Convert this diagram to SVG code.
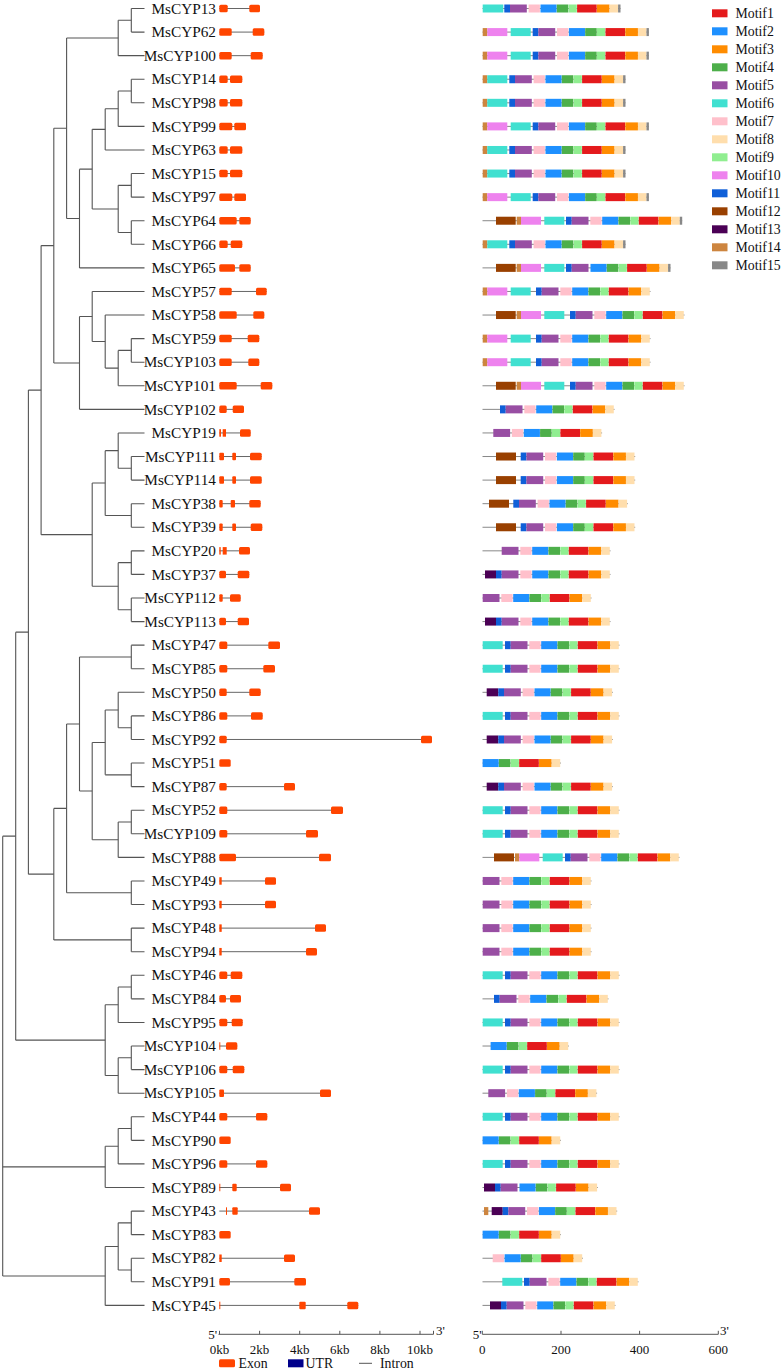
<svg xmlns="http://www.w3.org/2000/svg" width="784" height="1371" viewBox="0 0 784 1371">
<style>
.t{fill:none;stroke:#555;stroke-width:1.1}
.lb{font-family:"Liberation Serif","Times New Roman",serif;font-size:15.3px;fill:#111;text-anchor:end}
.e{fill:#FF4500}
.in{fill:none;stroke:#666;stroke-width:1}
.bb{stroke:#888;stroke-width:1}
.ax{fill:none;stroke:#555;stroke-width:1}
.tx{font-family:"Liberation Serif","Times New Roman",serif;font-size:13px;fill:#111}
.lg{font-family:"Liberation Serif","Times New Roman",serif;font-size:13.8px;fill:#111}
.m1{fill:#E41A1C}.m2{fill:#1E90FF}.m3{fill:#FF8C00}.m4{fill:#4DAF4A}.m5{fill:#984EA3}
.m6{fill:#40E0D0}.m7{fill:#FFC0CB}.m8{fill:#FFDEAD}.m9{fill:#90EE90}.m10{fill:#EE82EE}
.m11{fill:#0F5FD8}.m12{fill:#994000}.m13{fill:#4B0055}.m14{fill:#CD853F}.m15{fill:#888888}
</style>
<defs>
<g id="t2"><rect class="m2" x="36.2" y="-4" width="16.1" height="8"/><rect class="m4" x="52.5" y="-4" width="11.5" height="8"/><rect class="m9" x="64.3" y="-4" width="8.2" height="8"/><rect class="m1" x="72.8" y="-4" width="19.6" height="8"/><rect class="m3" x="92.6" y="-4" width="12.6" height="8"/><rect class="m8" x="105.3" y="-4" width="8.5" height="8"/></g>
<g id="t7"><rect class="m7" x="24.3" y="-4" width="11.3" height="8"/><use href="#t2"/></g>
<g id="t5"><rect class="m5" x="5.7" y="-4" width="16.8" height="8"/><use href="#t7"/></g>
<g id="c"><rect class="m11" x="0" y="-4" width="5.7" height="8"/><use href="#t5"/></g>
<rect id="e15" class="m15" x="113.8" y="-4" width="2.4" height="8"/>
<g id="pB"><rect class="m14" x="482.7" y="-4" width="4.6" height="8"/><rect class="m10" x="487.3" y="-4" width="20" height="8"/><rect class="m6" x="510.7" y="-4" width="20" height="8"/></g>
<g id="pC"><rect class="m14" x="482.7" y="-4" width="4.6" height="8"/><rect class="m6" x="487.3" y="-4" width="20" height="8"/></g>
<g id="pD"><rect class="m12" x="496" y="-4" width="19.7" height="8"/><rect class="m14" x="516.7" y="-4" width="4.3" height="8"/><rect class="m10" x="521" y="-4" width="20" height="8"/><rect class="m6" x="544.3" y="-4" width="20" height="8"/></g>
</defs>

<g id="connectors">
<path class="t" d="M131.3 8.5V32.08M118.2 20.29V55.66M131.3 79.24V102.82M118.2 91.03V126.4M105.2 108.72V149.98M131.3 173.56V197.14M131.3 220.72V244.3M118.2 185.35V232.51M92.2 129.35V208.93M79.5 169.14V267.88M66.6 37.98V218.51M131.3 338.62V362.2M118.2 350.41V385.78M105.2 315.04V368.1M92.2 291.46V341.57M79.5 316.52V409.36M53.8 128.25V362.94M131.3 456.52V480.1M118.2 432.94V468.31M131.3 503.68V527.26M105.2 450.63V515.47M131.3 550.84V574.42M131.3 598V621.58M118.2 562.63V609.79M92.2 483.05V586.21M41.1 245.6V534.63M131.3 645.16V668.74M131.3 715.9V739.48M118.2 692.32V727.69M131.3 763.06V786.64M105.2 710V774.85M131.3 810.22V833.8M118.2 822.01V857.38M92.2 742.43V839.7M79.5 656.95V791.07M131.3 880.96V904.54M66.6 724.01V892.75M131.3 928.12V951.7M53.8 808.38V939.91M28.4 390.12V874.15M131.3 975.28V998.86M118.2 987.07V1022.44M131.3 1046.02V1069.6M118.2 1057.81V1093.18M105.2 1004.76V1075.5M15.7 632.14V1040.13M131.3 1116.76V1140.34M118.2 1128.55V1163.92M105.2 1146.24V1187.5M131.3 1211.08V1234.66M131.3 1258.24V1281.82M118.2 1222.87V1270.03M105.2 1246.45V1305.4M2.7 836.14V1275.93"/>
<path class="t" d="M118.2 20.29H131.3M66.6 37.98H118.2M118.2 91.03H131.3M105.2 108.72H118.2M92.2 129.35H105.2M118.2 185.35H131.3M118.2 232.51H131.3M92.2 208.93H118.2M79.5 169.14H92.2M66.6 218.51H79.5M53.8 128.25H66.6M118.2 350.41H131.3M105.2 368.1H118.2M92.2 341.57H105.2M79.5 316.52H92.2M53.8 362.94H79.5M41.1 245.6H53.8M118.2 468.31H131.3M105.2 450.63H118.2M105.2 515.47H131.3M92.2 483.05H105.2M118.2 562.63H131.3M118.2 609.79H131.3M92.2 586.21H118.2M41.1 534.63H92.2M28.4 390.12H41.1M79.5 656.95H131.3M118.2 727.69H131.3M105.2 710H118.2M105.2 774.85H131.3M92.2 742.43H105.2M118.2 822.01H131.3M92.2 839.7H118.2M79.5 791.07H92.2M66.6 724.01H79.5M66.6 892.75H131.3M53.8 808.38H66.6M53.8 939.91H131.3M28.4 874.15H53.8M15.7 632.14H28.4M118.2 987.07H131.3M105.2 1004.76H118.2M118.2 1057.81H131.3M105.2 1075.5H118.2M15.7 1040.13H105.2M2.7 836.14H15.7M118.2 1128.55H131.3M105.2 1146.24H118.2M2.7 1166.87H105.2M118.2 1222.87H131.3M118.2 1270.03H131.3M105.2 1246.45H118.2M2.7 1275.93H105.2"/>
<path class="t" d="M131.3 8.5H144.5M131.3 32.08H144.5M118.2 55.66H144.5M131.3 79.24H144.5M131.3 102.82H144.5M118.2 126.4H144.5M105.2 149.98H144.5M131.3 173.56H144.5M131.3 197.14H144.5M131.3 220.72H144.5M131.3 244.3H144.5M79.5 267.88H144.5M92.2 291.46H144.5M105.2 315.04H144.5M131.3 338.62H144.5M131.3 362.2H144.5M118.2 385.78H144.5M79.5 409.36H144.5M118.2 432.94H144.5M131.3 456.52H144.5M131.3 480.1H144.5M131.3 503.68H144.5M131.3 527.26H144.5M131.3 550.84H144.5M131.3 574.42H144.5M131.3 598H144.5M131.3 621.58H144.5M131.3 645.16H144.5M131.3 668.74H144.5M118.2 692.32H144.5M131.3 715.9H144.5M131.3 739.48H144.5M131.3 763.06H144.5M131.3 786.64H144.5M131.3 810.22H144.5M131.3 833.8H144.5M118.2 857.38H144.5M131.3 880.96H144.5M131.3 904.54H144.5M131.3 928.12H144.5M131.3 951.7H144.5M131.3 975.28H144.5M131.3 998.86H144.5M118.2 1022.44H144.5M131.3 1046.02H144.5M131.3 1069.6H144.5M118.2 1093.18H144.5M131.3 1116.76H144.5M131.3 1140.34H144.5M118.2 1163.92H144.5M105.2 1187.5H144.5M131.3 1211.08H144.5M131.3 1234.66H144.5M131.3 1258.24H144.5M131.3 1281.82H144.5M105.2 1305.4H144.5"/>
</g>

<g id="MsCYP13" transform="translate(0,8.5)"><text class="lb" x="216" y="5.2">MsCYP13</text><path class="in" d="M219.3 0H260"/><rect class="e" x="219.3" y="-3.75" width="8.4" height="7.5" rx="1.5"/><rect class="e" x="249.3" y="-3.75" width="10.7" height="7.5" rx="1.5"/><line class="bb" x1="482.5" y1="0" x2="620.5" y2="0"/><rect class="m6" x="482.7" y="-4" width="20.6" height="8"/><use href="#c" x="504.3"/><use href="#e15" x="504.3"/></g>
<g id="MsCYP62" transform="translate(0,32.08)"><text class="lb" x="216" y="5.2">MsCYP62</text><path class="in" d="M219.3 0H264.3"/><rect class="e" x="219.3" y="-3.75" width="12.4" height="7.5" rx="1.5"/><rect class="e" x="252.7" y="-3.75" width="11.6" height="7.5" rx="1.5"/><line class="bb" x1="482.5" y1="0" x2="648.9" y2="0"/><use href="#pB"/><use href="#c" x="532.7"/><use href="#e15" x="532.7"/></g>
<g id="MsCYP100" transform="translate(0,55.66)"><text class="lb" x="216" y="5.2">MsCYP100</text><path class="in" d="M219.3 0H262.7"/><rect class="e" x="219.3" y="-3.75" width="12.4" height="7.5" rx="1.5"/><rect class="e" x="250.7" y="-3.75" width="12" height="7.5" rx="1.5"/><line class="bb" x1="482.5" y1="0" x2="648.9" y2="0"/><use href="#pB"/><use href="#c" x="532.7"/><use href="#e15" x="532.7"/></g>
<g id="MsCYP14" transform="translate(0,79.24)"><text class="lb" x="216" y="5.2">MsCYP14</text><path class="in" d="M219.3 0H242.3"/><rect class="e" x="219.3" y="-3.75" width="8.4" height="7.5" rx="1.5"/><rect class="e" x="230" y="-3.75" width="12.3" height="7.5" rx="1.5"/><line class="bb" x1="482.5" y1="0" x2="625.5" y2="0"/><use href="#pC"/><use href="#c" x="509.3"/><use href="#e15" x="509.3"/></g>
<g id="MsCYP98" transform="translate(0,102.82)"><text class="lb" x="216" y="5.2">MsCYP98</text><path class="in" d="M219.3 0H242.3"/><rect class="e" x="219.3" y="-3.75" width="8.4" height="7.5" rx="1.5"/><rect class="e" x="230" y="-3.75" width="12.3" height="7.5" rx="1.5"/><line class="bb" x1="482.5" y1="0" x2="625.5" y2="0"/><use href="#pC"/><use href="#c" x="509.3"/><use href="#e15" x="509.3"/></g>
<g id="MsCYP99" transform="translate(0,126.4)"><text class="lb" x="216" y="5.2">MsCYP99</text><path class="in" d="M219.3 0H246"/><rect class="e" x="219.3" y="-3.75" width="13" height="7.5" rx="1.5"/><rect class="e" x="234.3" y="-3.75" width="11.7" height="7.5" rx="1.5"/><line class="bb" x1="482.5" y1="0" x2="648.9" y2="0"/><use href="#pB"/><use href="#c" x="532.7"/><use href="#e15" x="532.7"/></g>
<g id="MsCYP63" transform="translate(0,149.98)"><text class="lb" x="216" y="5.2">MsCYP63</text><path class="in" d="M219.3 0H242.3"/><rect class="e" x="219.3" y="-3.75" width="8.4" height="7.5" rx="1.5"/><rect class="e" x="230" y="-3.75" width="12.3" height="7.5" rx="1.5"/><line class="bb" x1="482.5" y1="0" x2="625.5" y2="0"/><use href="#pC"/><use href="#c" x="509.3"/><use href="#e15" x="509.3"/></g>
<g id="MsCYP15" transform="translate(0,173.56)"><text class="lb" x="216" y="5.2">MsCYP15</text><path class="in" d="M219.3 0H242.3"/><rect class="e" x="219.3" y="-3.75" width="8.4" height="7.5" rx="1.5"/><rect class="e" x="230" y="-3.75" width="12.3" height="7.5" rx="1.5"/><line class="bb" x1="482.5" y1="0" x2="625.5" y2="0"/><use href="#pC"/><use href="#c" x="509.3"/><use href="#e15" x="509.3"/></g>
<g id="MsCYP97" transform="translate(0,197.14)"><text class="lb" x="216" y="5.2">MsCYP97</text><path class="in" d="M219.3 0H246"/><rect class="e" x="219.3" y="-3.75" width="13" height="7.5" rx="1.5"/><rect class="e" x="234.3" y="-3.75" width="11.7" height="7.5" rx="1.5"/><line class="bb" x1="482.5" y1="0" x2="648.9" y2="0"/><use href="#pB"/><use href="#c" x="532.7"/><use href="#e15" x="532.7"/></g>
<g id="MsCYP64" transform="translate(0,220.72)"><text class="lb" x="216" y="5.2">MsCYP64</text><path class="in" d="M219.3 0H250.7"/><rect class="e" x="219.3" y="-3.75" width="17.4" height="7.5" rx="1.5"/><rect class="e" x="239.3" y="-3.75" width="11.4" height="7.5" rx="1.5"/><line class="bb" x1="482.5" y1="0" x2="682.2" y2="0"/><use href="#pD"/><use href="#c" x="566"/><use href="#e15" x="566"/></g>
<g id="MsCYP66" transform="translate(0,244.3)"><text class="lb" x="216" y="5.2">MsCYP66</text><path class="in" d="M219.3 0H242.3"/><rect class="e" x="219.3" y="-3.75" width="8.4" height="7.5" rx="1.5"/><rect class="e" x="230.7" y="-3.75" width="11.6" height="7.5" rx="1.5"/><line class="bb" x1="482.5" y1="0" x2="625.5" y2="0"/><use href="#pC"/><use href="#c" x="509.3"/><use href="#e15" x="509.3"/></g>
<g id="MsCYP65" transform="translate(0,267.88)"><text class="lb" x="216" y="5.2">MsCYP65</text><path class="in" d="M219.3 0H250.7"/><rect class="e" x="219.3" y="-3.75" width="15.7" height="7.5" rx="1.5"/><rect class="e" x="239.3" y="-3.75" width="11.4" height="7.5" rx="1.5"/><line class="bb" x1="482.5" y1="0" x2="670.5" y2="0"/><use href="#pD"/><rect class="m11" x="566" y="-4" width="5.7" height="8"/><rect class="m5" x="571.7" y="-4" width="16.8" height="8"/><use href="#t2" x="554.3"/><use href="#e15" x="554.3"/></g>
<g id="MsCYP57" transform="translate(0,291.46)"><text class="lb" x="216" y="5.2">MsCYP57</text><path class="in" d="M219.3 0H266.7"/><rect class="e" x="219.3" y="-3.75" width="12.4" height="7.5" rx="1.5"/><rect class="e" x="256" y="-3.75" width="10.7" height="7.5" rx="1.5"/><line class="bb" x1="482.5" y1="0" x2="650.5" y2="0"/><use href="#pB"/><use href="#c" x="536"/></g>
<g id="MsCYP58" transform="translate(0,315.04)"><text class="lb" x="216" y="5.2">MsCYP58</text><path class="in" d="M219.3 0H264.3"/><rect class="e" x="219.3" y="-3.75" width="17.4" height="7.5" rx="1.5"/><rect class="e" x="253.3" y="-3.75" width="11" height="7.5" rx="1.5"/><line class="bb" x1="482.5" y1="0" x2="684.5" y2="0"/><use href="#pD"/><use href="#c" x="570"/></g>
<g id="MsCYP59" transform="translate(0,338.62)"><text class="lb" x="216" y="5.2">MsCYP59</text><path class="in" d="M219.3 0H259.3"/><rect class="e" x="219.3" y="-3.75" width="12.4" height="7.5" rx="1.5"/><rect class="e" x="247.7" y="-3.75" width="11.6" height="7.5" rx="1.5"/><line class="bb" x1="482.5" y1="0" x2="650.5" y2="0"/><use href="#pB"/><use href="#c" x="536"/></g>
<g id="MsCYP103" transform="translate(0,362.2)"><text class="lb" x="216" y="5.2">MsCYP103</text><path class="in" d="M219.3 0H259.3"/><rect class="e" x="219.3" y="-3.75" width="12.4" height="7.5" rx="1.5"/><rect class="e" x="248.3" y="-3.75" width="11" height="7.5" rx="1.5"/><line class="bb" x1="482.5" y1="0" x2="650.5" y2="0"/><use href="#pB"/><use href="#c" x="536"/></g>
<g id="MsCYP101" transform="translate(0,385.78)"><text class="lb" x="216" y="5.2">MsCYP101</text><path class="in" d="M219.3 0H272.3"/><rect class="e" x="219.3" y="-3.75" width="17.4" height="7.5" rx="1.5"/><rect class="e" x="260.7" y="-3.75" width="11.6" height="7.5" rx="1.5"/><line class="bb" x1="482.5" y1="0" x2="684.5" y2="0"/><use href="#pD"/><use href="#c" x="570"/></g>
<g id="MsCYP102" transform="translate(0,409.36)"><text class="lb" x="216" y="5.2">MsCYP102</text><path class="in" d="M219.3 0H244"/><rect class="e" x="219.3" y="-3.75" width="7.4" height="7.5" rx="1.5"/><rect class="e" x="232.7" y="-3.75" width="11.3" height="7.5" rx="1.5"/><line class="bb" x1="482.5" y1="0" x2="614.5" y2="0"/><use href="#c" x="500"/></g>
<g id="MsCYP19" transform="translate(0,432.94)"><text class="lb" x="216" y="5.2">MsCYP19</text><path class="in" d="M219.3 0H250.7"/><rect class="e" x="219.3" y="-3.75" width="1.7" height="7.5"/><rect class="e" x="222.7" y="-3.75" width="3.3" height="7.5"/><rect class="e" x="240" y="-3.75" width="10.7" height="7.5" rx="1.5"/><line class="bb" x1="482.5" y1="0" x2="602.1" y2="0"/><use href="#t5" x="487.6"/></g>
<g id="MsCYP111" transform="translate(0,456.52)"><text class="lb" x="216" y="5.2">MsCYP111</text><path class="in" d="M219.3 0H261.7"/><rect class="e" x="219.3" y="-3.75" width="4.7" height="7.5" rx="1"/><rect class="e" x="232.3" y="-3.75" width="3.7" height="7.5" rx="1"/><rect class="e" x="250" y="-3.75" width="11.7" height="7.5" rx="1.5"/><line class="bb" x1="482.5" y1="0" x2="635.2" y2="0"/><rect class="m12" x="496" y="-4" width="20" height="8"/><use href="#c" x="520.7"/></g>
<g id="MsCYP114" transform="translate(0,480.1)"><text class="lb" x="216" y="5.2">MsCYP114</text><path class="in" d="M219.3 0H261.7"/><rect class="e" x="219.3" y="-3.75" width="4.7" height="7.5" rx="1"/><rect class="e" x="232.3" y="-3.75" width="3.7" height="7.5" rx="1"/><rect class="e" x="250" y="-3.75" width="11.7" height="7.5" rx="1.5"/><line class="bb" x1="482.5" y1="0" x2="635.2" y2="0"/><rect class="m12" x="496" y="-4" width="20" height="8"/><use href="#c" x="520.7"/></g>
<g id="MsCYP38" transform="translate(0,503.68)"><text class="lb" x="216" y="5.2">MsCYP38</text><path class="in" d="M219.3 0H260.7"/><rect class="e" x="219.3" y="-3.75" width="3.4" height="7.5" rx="1"/><rect class="e" x="230.7" y="-3.75" width="4.3" height="7.5" rx="1"/><rect class="e" x="249.3" y="-3.75" width="11.4" height="7.5" rx="1.5"/><line class="bb" x1="482.5" y1="0" x2="627.8" y2="0"/><rect class="m12" x="489" y="-4" width="20" height="8"/><use href="#c" x="513.3"/></g>
<g id="MsCYP39" transform="translate(0,527.26)"><text class="lb" x="216" y="5.2">MsCYP39</text><path class="in" d="M219.3 0H262.3"/><rect class="e" x="219.3" y="-3.75" width="3.4" height="7.5" rx="1"/><rect class="e" x="232.3" y="-3.75" width="3.7" height="7.5" rx="1"/><rect class="e" x="250.7" y="-3.75" width="11.6" height="7.5" rx="1.5"/><line class="bb" x1="482.5" y1="0" x2="635.2" y2="0"/><rect class="m12" x="496" y="-4" width="20" height="8"/><use href="#c" x="520.7"/></g>
<g id="MsCYP20" transform="translate(0,550.84)"><text class="lb" x="216" y="5.2">MsCYP20</text><path class="in" d="M219.3 0H250"/><rect class="e" x="219.3" y="-3.75" width="1.4" height="7.5"/><rect class="e" x="222.7" y="-3.75" width="4" height="7.5"/><rect class="e" x="239" y="-3.75" width="11" height="7.5" rx="1.5"/><line class="bb" x1="482.5" y1="0" x2="610.5" y2="0"/><use href="#t5" x="496"/></g>
<g id="MsCYP37" transform="translate(0,574.42)"><text class="lb" x="216" y="5.2">MsCYP37</text><path class="in" d="M219.3 0H249.3"/><rect class="e" x="219.3" y="-3.75" width="6.7" height="7.5" rx="1.5"/><rect class="e" x="237.7" y="-3.75" width="11.6" height="7.5" rx="1.5"/><line class="bb" x1="482.5" y1="0" x2="610.5" y2="0"/><rect class="m13" x="485" y="-4" width="11" height="8"/><use href="#c" x="496"/></g>
<g id="MsCYP112" transform="translate(0,598)"><text class="lb" x="216" y="5.2">MsCYP112</text><path class="in" d="M219.3 0H240.7"/><rect class="e" x="219.3" y="-3.75" width="3.4" height="7.5" rx="1"/><rect class="e" x="230" y="-3.75" width="10.7" height="7.5" rx="1.5"/><line class="bb" x1="482.5" y1="0" x2="591.5" y2="0"/><use href="#t5" x="477"/></g>
<g id="MsCYP113" transform="translate(0,621.58)"><text class="lb" x="216" y="5.2">MsCYP113</text><path class="in" d="M219.3 0H249"/><rect class="e" x="219.3" y="-3.75" width="6.7" height="7.5" rx="1.5"/><rect class="e" x="237.7" y="-3.75" width="11.3" height="7.5" rx="1.5"/><line class="bb" x1="482.5" y1="0" x2="610.5" y2="0"/><rect class="m13" x="485" y="-4" width="11" height="8"/><use href="#c" x="496"/></g>
<g id="MsCYP47" transform="translate(0,645.16)"><text class="lb" x="216" y="5.2">MsCYP47</text><path class="in" d="M219.3 0H280"/><rect class="e" x="219.3" y="-3.75" width="8" height="7.5" rx="1.5"/><rect class="e" x="268.3" y="-3.75" width="11.7" height="7.5" rx="1.5"/><line class="bb" x1="482.5" y1="0" x2="619.5" y2="0"/><rect class="m6" x="482.7" y="-4" width="20" height="8"/><use href="#c" x="505"/></g>
<g id="MsCYP85" transform="translate(0,668.74)"><text class="lb" x="216" y="5.2">MsCYP85</text><path class="in" d="M219.3 0H275"/><rect class="e" x="219.3" y="-3.75" width="8" height="7.5" rx="1.5"/><rect class="e" x="263.3" y="-3.75" width="11.7" height="7.5" rx="1.5"/><line class="bb" x1="482.5" y1="0" x2="619.5" y2="0"/><rect class="m6" x="482.7" y="-4" width="20" height="8"/><use href="#c" x="505"/></g>
<g id="MsCYP50" transform="translate(0,692.32)"><text class="lb" x="216" y="5.2">MsCYP50</text><path class="in" d="M219.3 0H260.7"/><rect class="e" x="219.3" y="-3.75" width="7.4" height="7.5" rx="1.5"/><rect class="e" x="249.3" y="-3.75" width="11.4" height="7.5" rx="1.5"/><line class="bb" x1="482.5" y1="0" x2="612.8" y2="0"/><rect class="m13" x="486.7" y="-4" width="11.6" height="8"/><use href="#c" x="498.3"/></g>
<g id="MsCYP86" transform="translate(0,715.9)"><text class="lb" x="216" y="5.2">MsCYP86</text><path class="in" d="M219.3 0H262.7"/><rect class="e" x="219.3" y="-3.75" width="8" height="7.5" rx="1.5"/><rect class="e" x="251" y="-3.75" width="11.7" height="7.5" rx="1.5"/><line class="bb" x1="482.5" y1="0" x2="619.5" y2="0"/><rect class="m6" x="482.7" y="-4" width="20" height="8"/><use href="#c" x="505"/></g>
<g id="MsCYP92" transform="translate(0,739.48)"><text class="lb" x="216" y="5.2">MsCYP92</text><path class="in" d="M219.3 0H432"/><rect class="e" x="219.3" y="-3.75" width="7.4" height="7.5" rx="1.5"/><rect class="e" x="421" y="-3.75" width="11" height="7.5" rx="1.5"/><line class="bb" x1="482.5" y1="0" x2="612.8" y2="0"/><rect class="m13" x="486.7" y="-4" width="11.6" height="8"/><use href="#c" x="498.3"/></g>
<g id="MsCYP51" transform="translate(0,763.06)"><text class="lb" x="216" y="5.2">MsCYP51</text><rect class="e" x="219.3" y="-3.75" width="11.4" height="7.5" rx="1.5"/><line class="bb" x1="482.5" y1="0" x2="560.9" y2="0"/><use href="#t2" x="446.4"/></g>
<g id="MsCYP87" transform="translate(0,786.64)"><text class="lb" x="216" y="5.2">MsCYP87</text><path class="in" d="M219.3 0H295"/><rect class="e" x="219.3" y="-3.75" width="7.4" height="7.5" rx="1.5"/><rect class="e" x="284" y="-3.75" width="11" height="7.5" rx="1.5"/><line class="bb" x1="482.5" y1="0" x2="612.8" y2="0"/><rect class="m13" x="486.7" y="-4" width="11.6" height="8"/><use href="#c" x="498.3"/></g>
<g id="MsCYP52" transform="translate(0,810.22)"><text class="lb" x="216" y="5.2">MsCYP52</text><path class="in" d="M219.3 0H343"/><rect class="e" x="219.3" y="-3.75" width="8" height="7.5" rx="1.5"/><rect class="e" x="331" y="-3.75" width="12" height="7.5" rx="1.5"/><line class="bb" x1="482.5" y1="0" x2="619.5" y2="0"/><rect class="m6" x="482.7" y="-4" width="20" height="8"/><use href="#c" x="505"/></g>
<g id="MsCYP109" transform="translate(0,833.8)"><text class="lb" x="216" y="5.2">MsCYP109</text><path class="in" d="M219.3 0H318"/><rect class="e" x="219.3" y="-3.75" width="8" height="7.5" rx="1.5"/><rect class="e" x="306" y="-3.75" width="12" height="7.5" rx="1.5"/><line class="bb" x1="482.5" y1="0" x2="619.5" y2="0"/><rect class="m6" x="482.7" y="-4" width="20" height="8"/><use href="#c" x="505"/></g>
<g id="MsCYP88" transform="translate(0,857.38)"><text class="lb" x="216" y="5.2">MsCYP88</text><path class="in" d="M219.3 0H331"/><rect class="e" x="219.3" y="-3.75" width="16.7" height="7.5" rx="1.5"/><rect class="e" x="319" y="-3.75" width="12" height="7.5" rx="1.5"/><line class="bb" x1="482.5" y1="0" x2="679.5" y2="0"/><rect class="m12" x="494" y="-4" width="20" height="8"/><rect class="m14" x="515" y="-4" width="4.3" height="8"/><rect class="m10" x="519.3" y="-4" width="20" height="8"/><rect class="m6" x="542.7" y="-4" width="20" height="8"/><use href="#c" x="565"/></g>
<g id="MsCYP49" transform="translate(0,880.96)"><text class="lb" x="216" y="5.2">MsCYP49</text><path class="in" d="M219.3 0H276"/><rect class="e" x="219.3" y="-3.75" width="2.4" height="7.5"/><rect class="e" x="265" y="-3.75" width="11" height="7.5" rx="1.5"/><line class="bb" x1="482.5" y1="0" x2="591.5" y2="0"/><use href="#t5" x="477"/></g>
<g id="MsCYP93" transform="translate(0,904.54)"><text class="lb" x="216" y="5.2">MsCYP93</text><path class="in" d="M219.3 0H276"/><rect class="e" x="219.3" y="-3.75" width="2.4" height="7.5"/><rect class="e" x="265" y="-3.75" width="11" height="7.5" rx="1.5"/><line class="bb" x1="482.5" y1="0" x2="591.5" y2="0"/><use href="#t5" x="477"/></g>
<g id="MsCYP48" transform="translate(0,928.12)"><text class="lb" x="216" y="5.2">MsCYP48</text><path class="in" d="M219.3 0H326"/><rect class="e" x="219.3" y="-3.75" width="2.4" height="7.5"/><rect class="e" x="315" y="-3.75" width="11" height="7.5" rx="1.5"/><line class="bb" x1="482.5" y1="0" x2="591.5" y2="0"/><use href="#t5" x="477"/></g>
<g id="MsCYP94" transform="translate(0,951.7)"><text class="lb" x="216" y="5.2">MsCYP94</text><path class="in" d="M219.3 0H317"/><rect class="e" x="219.3" y="-3.75" width="2.4" height="7.5"/><rect class="e" x="306" y="-3.75" width="11" height="7.5" rx="1.5"/><line class="bb" x1="482.5" y1="0" x2="591.5" y2="0"/><use href="#t5" x="477"/></g>
<g id="MsCYP46" transform="translate(0,975.28)"><text class="lb" x="216" y="5.2">MsCYP46</text><path class="in" d="M219.3 0H242.3"/><rect class="e" x="219.3" y="-3.75" width="8" height="7.5" rx="1.5"/><rect class="e" x="230.7" y="-3.75" width="11.6" height="7.5" rx="1.5"/><line class="bb" x1="482.5" y1="0" x2="619.5" y2="0"/><rect class="m6" x="482.7" y="-4" width="20" height="8"/><use href="#c" x="505"/></g>
<g id="MsCYP84" transform="translate(0,998.86)"><text class="lb" x="216" y="5.2">MsCYP84</text><path class="in" d="M219.3 0H241"/><rect class="e" x="219.3" y="-3.75" width="6.7" height="7.5" rx="1.5"/><rect class="e" x="230" y="-3.75" width="11" height="7.5" rx="1.5"/><line class="bb" x1="482.5" y1="0" x2="608.5" y2="0"/><use href="#c" x="494"/></g>
<g id="MsCYP95" transform="translate(0,1022.44)"><text class="lb" x="216" y="5.2">MsCYP95</text><path class="in" d="M219.3 0H242.7"/><rect class="e" x="219.3" y="-3.75" width="8" height="7.5" rx="1.5"/><rect class="e" x="231.7" y="-3.75" width="11" height="7.5" rx="1.5"/><line class="bb" x1="482.5" y1="0" x2="619.5" y2="0"/><rect class="m6" x="482.7" y="-4" width="20" height="8"/><use href="#c" x="505"/></g>
<g id="MsCYP104" transform="translate(0,1046.02)"><text class="lb" x="216" y="5.2">MsCYP104</text><path class="in" d="M219.3 0H237.3"/><rect class="e" x="219.3" y="-3.75" width="1" height="7.5"/><rect class="e" x="226" y="-3.75" width="11.3" height="7.5" rx="1.5"/><line class="bb" x1="482.5" y1="0" x2="568.9" y2="0"/><use href="#t2" x="454.4"/></g>
<g id="MsCYP106" transform="translate(0,1069.6)"><text class="lb" x="216" y="5.2">MsCYP106</text><path class="in" d="M219.3 0H244.3"/><rect class="e" x="219.3" y="-3.75" width="8" height="7.5" rx="1.5"/><rect class="e" x="232.7" y="-3.75" width="11.6" height="7.5" rx="1.5"/><line class="bb" x1="482.5" y1="0" x2="619.5" y2="0"/><rect class="m6" x="482.7" y="-4" width="20" height="8"/><use href="#c" x="505"/></g>
<g id="MsCYP105" transform="translate(0,1093.18)"><text class="lb" x="216" y="5.2">MsCYP105</text><path class="in" d="M219.3 0H331"/><rect class="e" x="219.3" y="-3.75" width="4.7" height="7.5" rx="1"/><rect class="e" x="320" y="-3.75" width="11" height="7.5" rx="1.5"/><line class="bb" x1="482.5" y1="0" x2="597.1" y2="0"/><use href="#t5" x="482.6"/></g>
<g id="MsCYP44" transform="translate(0,1116.76)"><text class="lb" x="216" y="5.2">MsCYP44</text><path class="in" d="M219.3 0H267.3"/><rect class="e" x="219.3" y="-3.75" width="8" height="7.5" rx="1.5"/><rect class="e" x="256" y="-3.75" width="11.3" height="7.5" rx="1.5"/><line class="bb" x1="482.5" y1="0" x2="619.5" y2="0"/><rect class="m6" x="482.7" y="-4" width="20" height="8"/><use href="#c" x="505"/></g>
<g id="MsCYP90" transform="translate(0,1140.34)"><text class="lb" x="216" y="5.2">MsCYP90</text><rect class="e" x="219.3" y="-3.75" width="11.4" height="7.5" rx="1.5"/><line class="bb" x1="482.5" y1="0" x2="560.9" y2="0"/><use href="#t2" x="446.4"/></g>
<g id="MsCYP96" transform="translate(0,1163.92)"><text class="lb" x="216" y="5.2">MsCYP96</text><path class="in" d="M219.3 0H267.3"/><rect class="e" x="219.3" y="-3.75" width="8" height="7.5" rx="1.5"/><rect class="e" x="256" y="-3.75" width="11.3" height="7.5" rx="1.5"/><line class="bb" x1="482.5" y1="0" x2="619.5" y2="0"/><rect class="m6" x="482.7" y="-4" width="20" height="8"/><use href="#c" x="505"/></g>
<g id="MsCYP89" transform="translate(0,1187.5)"><text class="lb" x="216" y="5.2">MsCYP89</text><path class="in" d="M219.3 0H291"/><rect class="e" x="219.3" y="-3.75" width="1" height="7.5"/><rect class="e" x="232.3" y="-3.75" width="4.4" height="7.5" rx="1"/><rect class="e" x="280" y="-3.75" width="11" height="7.5" rx="1.5"/><line class="bb" x1="482.5" y1="0" x2="597.8" y2="0"/><rect class="m13" x="484" y="-4" width="11" height="8"/><rect class="m11" x="495" y="-4" width="5.7" height="8"/><rect class="m5" x="500.7" y="-4" width="16.8" height="8"/><use href="#t2" x="483.3"/></g>
<g id="MsCYP43" transform="translate(0,1211.08)"><text class="lb" x="216" y="5.2">MsCYP43</text><path class="in" d="M219.3 0H320"/><rect class="e" x="226" y="-3.75" width="1" height="7.5"/><rect class="e" x="232.3" y="-3.75" width="5.4" height="7.5" rx="1"/><rect class="e" x="309" y="-3.75" width="11" height="7.5" rx="1.5"/><line class="bb" x1="482.5" y1="0" x2="617.2" y2="0"/><rect class="m14" x="484" y="-4" width="4.3" height="8"/><rect class="m13" x="491.7" y="-4" width="11" height="8"/><use href="#c" x="502.7"/></g>
<g id="MsCYP83" transform="translate(0,1234.66)"><text class="lb" x="216" y="5.2">MsCYP83</text><rect class="e" x="219.3" y="-3.75" width="11.4" height="7.5" rx="1.5"/><line class="bb" x1="482.5" y1="0" x2="560.9" y2="0"/><use href="#t2" x="446.4"/></g>
<g id="MsCYP82" transform="translate(0,1258.24)"><text class="lb" x="216" y="5.2">MsCYP82</text><path class="in" d="M219.3 0H295"/><rect class="e" x="219.3" y="-3.75" width="2.4" height="7.5"/><rect class="e" x="284" y="-3.75" width="11" height="7.5" rx="1.5"/><line class="bb" x1="482.5" y1="0" x2="582.9" y2="0"/><use href="#t7" x="468.4"/></g>
<g id="MsCYP91" transform="translate(0,1281.82)"><text class="lb" x="216" y="5.2">MsCYP91</text><path class="in" d="M219.3 0H306"/><rect class="e" x="219.3" y="-3.75" width="10.7" height="7.5" rx="1.5"/><rect class="e" x="294.3" y="-3.75" width="11.7" height="7.5" rx="1.5"/><line class="bb" x1="482.5" y1="0" x2="638.5" y2="0"/><rect class="m6" x="502.3" y="-4" width="20" height="8"/><use href="#c" x="524"/></g>
<g id="MsCYP45" transform="translate(0,1305.4)"><text class="lb" x="216" y="5.2">MsCYP45</text><path class="in" d="M219.3 0H358.3"/><rect class="e" x="219.3" y="-3.75" width="1" height="7.5"/><rect class="e" x="299.3" y="-3.75" width="6.4" height="7.5" rx="1"/><rect class="e" x="347.3" y="-3.75" width="11" height="7.5" rx="1.5"/><line class="bb" x1="482.5" y1="0" x2="615.5" y2="0"/><rect class="m13" x="490" y="-4" width="11" height="8"/><use href="#c" x="501"/></g>

<g id="motif-legend">
<rect class="m1" x="712" y="9.3" width="15.5" height="8"/><text class="lg" x="735.5" y="18.2">Motif1</text>
<rect class="m2" x="712" y="27.3" width="15.5" height="8"/><text class="lg" x="735.5" y="36.2">Motif2</text>
<rect class="m3" x="712" y="45.3" width="15.5" height="8"/><text class="lg" x="735.5" y="54.2">Motif3</text>
<rect class="m4" x="712" y="63.3" width="15.5" height="8"/><text class="lg" x="735.5" y="72.2">Motif4</text>
<rect class="m5" x="712" y="81.3" width="15.5" height="8"/><text class="lg" x="735.5" y="90.2">Motif5</text>
<rect class="m6" x="712" y="99.3" width="15.5" height="8"/><text class="lg" x="735.5" y="108.2">Motif6</text>
<rect class="m7" x="712" y="117.3" width="15.5" height="8"/><text class="lg" x="735.5" y="126.2">Motif7</text>
<rect class="m8" x="712" y="135.3" width="15.5" height="8"/><text class="lg" x="735.5" y="144.2">Motif8</text>
<rect class="m9" x="712" y="153.3" width="15.5" height="8"/><text class="lg" x="735.5" y="162.2">Motif9</text>
<rect class="m10" x="712" y="171.3" width="15.5" height="8"/><text class="lg" x="735.5" y="180.2">Motif10</text>
<rect class="m11" x="712" y="189.3" width="15.5" height="8"/><text class="lg" x="735.5" y="198.2">Motif11</text>
<rect class="m12" x="712" y="207.3" width="15.5" height="8"/><text class="lg" x="735.5" y="216.2">Motif12</text>
<rect class="m13" x="712" y="225.3" width="15.5" height="8"/><text class="lg" x="735.5" y="234.2">Motif13</text>
<rect class="m14" x="712" y="243.3" width="15.5" height="8"/><text class="lg" x="735.5" y="252.2">Motif14</text>
<rect class="m15" x="712" y="261.3" width="15.5" height="8"/><text class="lg" x="735.5" y="270.2">Motif15</text>
</g>

<g id="gene-axis">
<path class="ax" d="M218.5 1334.3H433.5M219.5 1334.3V1330.8M259.6 1334.3V1330.8M299.7 1334.3V1330.8M339.8 1334.3V1330.8M379.9 1334.3V1330.8M420 1334.3V1330.8M433.5 1334.3V1330.8"/>
<text class="tx" x="217" y="1338.5" text-anchor="end">5'</text>
<text class="tx" x="436" y="1335">3'</text>
<text class="tx" x="219.5" y="1353.5" text-anchor="middle">0kb</text>
<text class="tx" x="259.6" y="1353.5" text-anchor="middle">2kb</text>
<text class="tx" x="299.7" y="1353.5" text-anchor="middle">4kb</text>
<text class="tx" x="339.8" y="1353.5" text-anchor="middle">6kb</text>
<text class="tx" x="379.9" y="1353.5" text-anchor="middle">8kb</text>
<text class="tx" x="420" y="1353.5" text-anchor="middle">10kb</text>
</g>
<g id="gene-legend">
<rect class="e" x="219" y="1359.3" width="16" height="8" rx="1.5"/><text class="lg" x="238.5" y="1368">Exon</text>
<rect x="288" y="1359.3" width="15.5" height="8" fill="#00008B"/><text class="lg" x="305.5" y="1368">UTR</text>
<line x1="359" y1="1363.3" x2="372" y2="1363.3" stroke="#555" stroke-width="1"/><text class="lg" x="380" y="1368">Intron</text>
</g>
<g id="motif-axis">
<path class="ax" d="M482.3 1334.3H718.3M482.3 1334.3V1330.8M561 1334.3V1330.8M639.6 1334.3V1330.8M718.3 1334.3V1330.8"/>
<text class="tx" x="481.5" y="1338.5" text-anchor="end">5'</text>
<text class="tx" x="720" y="1335">3'</text>
<text class="tx" x="482.3" y="1353.5" text-anchor="middle">0</text>
<text class="tx" x="561" y="1353.5" text-anchor="middle">200</text>
<text class="tx" x="639.6" y="1353.5" text-anchor="middle">400</text>
<text class="tx" x="718.3" y="1353.5" text-anchor="middle">600</text>
</g>
</svg>
